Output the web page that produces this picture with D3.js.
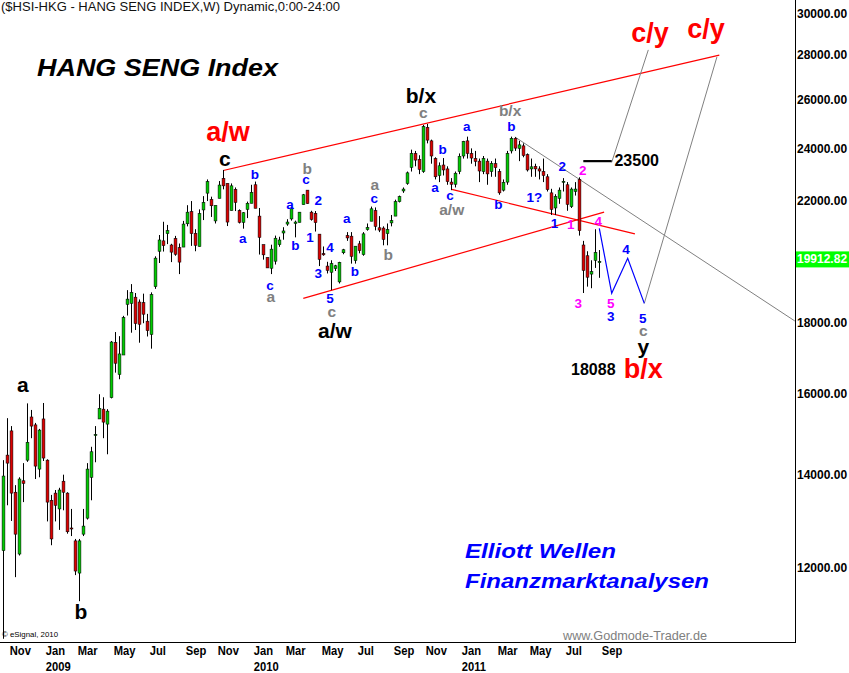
<!DOCTYPE html>
<html><head><meta charset="utf-8">
<script src="https://cdn.jsdelivr.net/npm/d3@7"></script>
<style>body{margin:0;background:#fff}svg{display:block}</style>
</head><body>
<svg id="c" width="849" height="673"></svg>
<script>
// ---------- DATA ----------
const firstWeek = Date.UTC(2008, 9, 27); // Monday of the first weekly bar
const open = [
12350,14460,15050,13600,12280,13860,14340,15400,15200,14130,
15350,14340,13420,13580,13230,13850,13580,12820,12550,11900,
12690,13030,13940,14950,15350,15600,15220,15900,17420,16520,
17060,18550,18580,18770,18620,18600,18040,17650,19100,20250,
20600,20850,20460,20680,20370,20390,21190,21620,20860,20410,
21680,22290,22060,21290,22100,22840,22650,21660,22430,21660,
21240,21700,21920,22600,21460,20470,20040,19690,19920,20470,
20870,21180,21360,21200,21240,21870,22400,21600,21560,20830,
20170,19760,19560,19680,19250,20200,20780,20760,19940,20500,
20140,20990,21280,21660,21050,21040,20850,21220,21460,21980,
22370,22650,23260,23800,23570,23100,24850,24300,23600,22950,
23350,23200,22700,22620,23100,23700,24300,23800,23600,23500,
23100,23500,23100,23400,23100,22400,22700,23900,24400,24000,
24100,23750,23200,23300,23200,23100,22900,22300,21750,22100,
22700,22600,21800,22350,22800,20460,20100,19500,19950,19870];
const high = [
14340,15370,15170,13760,13940,14270,15750,15580,15250,15100,
15760,14360,13540,13650,13700,14000,13600,13230,12590,12590,
13230,14270,14660,15170,15990,15910,15600,17460,17720,17600,
18200,18990,19180,18900,18700,18880,18260,18920,20080,20800,
21260,21150,20500,20770,20510,21290,21850,22000,21000,21700,
22180,22800,22160,21840,22740,23160,22650,22650,22500,21700,
21600,21980,22600,22720,21750,20470,20040,20470,20780,20740,
21070,21350,21800,21300,21600,22260,22400,21650,21640,20830,
20410,19900,19950,19800,19900,20330,20900,20900,20420,20600,
20900,21200,21800,21770,21460,21100,21200,21500,22050,22200,
22500,23100,23950,23900,23730,24950,24990,24350,23650,23450,
23620,23300,22850,23100,23800,24300,24470,24000,23900,23600,
23700,23600,23500,23600,23200,22800,23900,24470,24450,24300,
24200,23800,23600,23400,23300,23600,23000,22450,22250,22500,
22850,22700,22500,22700,22880,20600,20250,19950,21000,20290];
const low = [
10676,13310,12970,11820,12250,13380,14300,14870,13900,13940,
14320,12960,12460,12960,12780,13200,12700,12650,11860,11360,
12650,13000,13420,14290,15350,14870,14480,15880,16570,16390,
17060,18210,17700,17780,17410,17980,17590,17240,19030,19860,
20240,20490,19890,20100,19500,20390,21100,20430,20250,20410,
21320,22000,21430,21200,22100,22430,21110,21660,21640,21200,
21020,21390,21920,21740,20140,19970,19700,19500,19810,20400,
20640,21120,21300,20720,21240,21870,21900,21300,20920,19760,
20100,19520,18990,19600,19200,20150,20600,19840,19840,20180,
20100,20950,21280,20960,20900,20450,20450,21100,21460,21950,
22300,22600,23100,23300,23000,23050,24200,23400,22800,22700,
22950,22600,22400,22500,23000,23600,23600,23400,23300,22700,
23000,22600,22900,22900,22230,22350,22600,23800,23900,23500,
23650,23100,22900,22900,22800,22700,22350,21500,21500,21900,
22350,21650,21750,22200,20780,18900,19100,19050,19700,19380];
const close = [
13968,14270,13580,12690,13900,13800,14770,15170,14200,15070,
14390,13380,12590,13310,13650,13600,12740,12800,11940,12550,
12860,14130,14540,14960,15620,15270,15550,17430,16830,17090,
18150,18710,18920,17970,17950,18250,17760,18850,20020,20630,
20440,20950,20220,20150,19890,21180,21600,20850,20450,21550,
21950,22720,21830,21840,22590,22560,21250,22560,21950,21240,
21580,21920,22320,21740,20720,20130,19700,20320,20690,20630,
20940,21250,21720,21250,21600,22230,21910,21340,21230,19980,
20130,19620,19840,19770,19880,20300,20700,20080,20420,20270,
20840,21060,21720,21100,20970,20650,20990,21300,21980,22160,
22440,23050,23800,23540,23180,24880,24330,23700,22900,23320,
23160,22720,22620,23035,23690,24280,23800,23620,23490,23120,
23600,23010,23410,23250,22300,22690,23800,24400,24010,24140,
23720,23160,23280,23200,23120,22950,22420,21700,22170,22400,
22730,21880,22440,22440,20950,19620,19400,19580,20210,19913];

const yTicks = [12000,14000,16000,18000,22000,24000,26000,28000,30000];
const lastPrice = 19912.82;
const monthsShown = [0,2,4,6,8,10]; // Jan Mar May Jul Sep Nov

// lines: [week index, value]
const upperChannel = [[55,23140],[179,28000]];
const lowerChannel = [[75,18735],[150.2,21600]];
const awLine = [[112.1,22430],[157.9,20840]];
const bxLine = [[127.9,24457],[197.9,18045]];
const blueProjection = [[149,21030],[152.1,18890],[156.1,20016],[160.25,18580]];
const grayProjection1 = [[152.1,23455],[161.25,28240]];
const grayProjection2 = [[160.25,18580],[178.4,27910]];
const level23500 = [[145,23500],[152.1,23500]];

// labels: [text, week index, value]
const blackLabels = [["a",4.9,16260],["b",19.4,11160],["c",55.4,23620],["b/x",104.4,26210],["a/w",82.9,17778],["y",160,17315]];
const blackNumbers = [["18088",147.5,16660],["23500",158.35,23520]];
const redLabels = [["a/w",56.2,24657],["c/y",161.7,29026],["c/y",175.7,29218],["b/x",160,16660]];
const grayLabels = [["b",76,23222],["a",66.9,18776],["c",82.1,18317],["a",92.9,22620],["b",96.25,20150],["c",105,25480],["a/w",112.1,21678],["b/x",126.7,25530],["c",160,17778]];
const blueLabels = [["b",62.9,23005],["a",59.85,20696],["c",66.7,19150],["a",71.7,21875],["b",73,20430],["c",75.7,22779],["2",78.75,22038],["1",76.7,20730],["3",78.75,19520],["4",81.7,20390],["5",81.7,18715],["a",85.85,21380],["b",87.9,19570],["c",92.75,22100],["a",107.9,22510],["b",109.85,23975],["c",111.7,22185],["a",115.85,24890],["b",123.75,21890],["b",127,24890],["1?",132.75,22135],["2",139.75,23300],["1",137.8,21205],["3",151.85,18170],["4",155.7,20315],["5",159.85,18125]];
const magentaLabels = [["2",144.85,23130],["1",141.85,21180],["4",148.75,21285],["3",143.75,18590],["5",151.85,18590]];

// ---------- CHART ----------
const W = 849, H = 673, plotR = 795, plotB = 642;
const wDate = w => new Date(firstWeek + w * 7 * 864e5);
const weeks = d3.range(open.length).map(wDate);
const bars = weeks.map((d, i) => ({d, o: open[i], h: high[i], l: low[i], c: close[i]}));

const x = d3.scaleUtc().domain([wDate(0), wDate(105)]).range([3.3, 423.3]);
const y = d3.scaleLog().domain([12000, 30000]).range([568, 13.3]);

const svg = d3.select("#c");
svg.append("rect").attr("width", W).attr("height", H).attr("fill", "#fff");
svg.append("defs").append("clipPath").attr("id", "plot")
  .append("rect").attr("x", 0).attr("y", 0).attr("width", plotR).attr("height", plotB);

const F = "'Liberation Sans', Arial, sans-serif";
const FN = "'Liberation Sans Narrow', 'Arial Narrow', 'Liberation Sans', Arial, sans-serif";

// title
svg.append("text").attr("x", 1).attr("y", 10.5).attr("font-family", F).attr("font-size", 12)
  .attr("fill", "#111").attr("textLength", 339).attr("lengthAdjust", "spacingAndGlyphs")
  .text("($HSI-HKG - HANG SENG INDEX,W) Dynamic,0:00-24:00");

svg.append("text").attr("x", 37).attr("y", 76).attr("font-family", F).attr("font-size", 23)
  .attr("font-weight", "bold").attr("font-style", "italic").attr("fill", "#000")
  .attr("textLength", 241).attr("lengthAdjust", "spacingAndGlyphs").text("HANG SENG Index");

svg.append("text").attr("x", 465).attr("y", 557.5).attr("font-family", F).attr("font-size", 20)
  .attr("font-weight", "bold").attr("font-style", "italic").attr("fill", "#0000ff")
  .attr("textLength", 151).attr("lengthAdjust", "spacingAndGlyphs").text("Elliott Wellen");
svg.append("text").attr("x", 465).attr("y", 587.5).attr("font-family", F).attr("font-size", 20)
  .attr("font-weight", "bold").attr("font-style", "italic").attr("fill", "#0000ff")
  .attr("textLength", 244).attr("lengthAdjust", "spacingAndGlyphs").text("Finanzmarktanalysen");

svg.append("text").attr("x", 563).attr("y", 639.5).attr("font-family", F).attr("font-size", 13)
  .attr("fill", "#808080").attr("textLength", 144).attr("lengthAdjust", "spacingAndGlyphs")
  .text("www.Godmode-Trader.de");
svg.append("text").attr("x", 2).attr("y", 637).attr("font-family", F).attr("font-size", 7.5)
  .attr("fill", "#000").attr("textLength", 56).attr("lengthAdjust", "spacingAndGlyphs")
  .text("© eSignal, 2010");

const gp = svg.append("g").attr("clip-path", "url(#plot)");
const line = d3.line().x(p => x(wDate(p[0]))).y(p => y(p[1]));
function drawLine(pts, color, width) {
  gp.append("path").attr("d", line(pts)).attr("fill", "none").attr("stroke", color).attr("stroke-width", width);
}
drawLine(upperChannel, "#ff0000", 1.2);
drawLine(lowerChannel, "#ff0000", 1.2);
drawLine(awLine, "#ff0000", 1.2);
drawLine(bxLine, "#808080", 1);
drawLine(grayProjection1, "#808080", 1);
drawLine(grayProjection2, "#808080", 1);
drawLine(blueProjection, "#0000ff", 1.2);
drawLine(level23500, "#000", 2.2);

// candles
const cg = gp.append("g");
bars.forEach(b => {
  const cx = Math.round(x(b.d));
  cg.append("line").attr("x1", cx + 0.5).attr("x2", cx + 0.5)
    .attr("y1", y(b.h)).attr("y2", y(b.l)).attr("stroke", "#000").attr("stroke-width", 1);
  const top = y(Math.max(b.o, b.c)), bot = y(Math.min(b.o, b.c));
  const hgt = Math.max(1, bot - top);
  cg.append("rect").attr("x", cx - 0.9).attr("y", top).attr("width", 2.8).attr("height", hgt)
    .attr("fill", b.c >= b.o ? "#00cc00" : "#dd0000")
    .attr("stroke", "#000").attr("stroke-width", 0.55);
});

// labels
function labels(arr, color, size) {
  gp.append("g").selectAll("text").data(arr).join("text")
    .attr("x", d => x(wDate(d[1]))).attr("y", d => y(d[2]))
    .attr("text-anchor", "middle").attr("dominant-baseline", "central")
    .attr("font-family", F).attr("font-weight", "bold").attr("font-size", size)
    .attr("fill", color).text(d => d[0]);
}
labels(blueLabels, "#0000ff", 13.5);
labels(magentaLabels, "#ff00ff", 13.5);
labels(grayLabels, "#808080", 15.5);
labels(blackLabels, "#000", 21);
labels(blackNumbers, "#000", 16);
labels(redLabels, "#ff0000", 27);

// frame
svg.append("line").attr("x1", plotR + 0.5).attr("x2", plotR + 0.5).attr("y1", 0).attr("y2", plotB)
  .attr("stroke", "#000");
svg.append("line").attr("x1", 0).attr("x2", plotR + 1).attr("y1", plotB + 0.5).attr("y2", plotB + 0.5)
  .attr("stroke", "#000");

// right axis
const ya = svg.append("g").attr("transform", `translate(${plotR},0)`)
  .call(d3.axisRight(y).tickValues(yTicks).tickFormat(d3.format(".2f")).tickSize(0).tickPadding(2));
ya.select(".domain").remove();
ya.selectAll("text").attr("font-family", F).attr("font-size", 12).attr("font-weight", "bold").attr("fill", "#000");

// last price box
const ly = y(lastPrice) - 2;
svg.append("rect").attr("x", plotR + 1).attr("y", ly - 8).attr("width", W - plotR - 1).attr("height", 16).attr("fill", "#00ff00");
svg.append("text").attr("x", plotR + 2).attr("y", ly).attr("dominant-baseline", "central")
  .attr("font-family", F).attr("font-size", 12).attr("font-weight", "bold").attr("fill", "#fff")
  .text(d3.format(".2f")(lastPrice));

// bottom axis: first weekly bar of every second month
const monthTicks = weeks.filter((d, i) => i > 0 && d.getUTCMonth() !== weeks[i - 1].getUTCMonth() && monthsShown.includes(d.getUTCMonth()));
const xa = svg.append("g").attr("transform", `translate(0,${plotB})`)
  .call(d3.axisBottom(x).tickValues(monthTicks).tickFormat(d3.utcFormat("%b")).tickSize(0));
xa.select(".domain").remove();
xa.selectAll("text").attr("text-anchor", "start").attr("x", 2).attr("y", 3.5)
  .attr("font-family", FN).attr("font-size", 13).attr("font-weight", "bold").attr("fill", "#000");
xa.selectAll(".tick").filter(d => d.getUTCMonth() === 0).append("text")
  .attr("x", 2).attr("y", 20).attr("dy", "0.71em").attr("text-anchor", "start")
  .attr("font-family", FN).attr("font-size", 13).attr("font-weight", "bold").attr("fill", "#000")
  .text(d => d.getUTCFullYear());
// condense axis labels to the narrow look of the original
xa.selectAll("text").each(function () {
  const len = this.getComputedTextLength();
  d3.select(this).attr("textLength", len * 0.86).attr("lengthAdjust", "spacingAndGlyphs");
});
</script>
</body></html>
